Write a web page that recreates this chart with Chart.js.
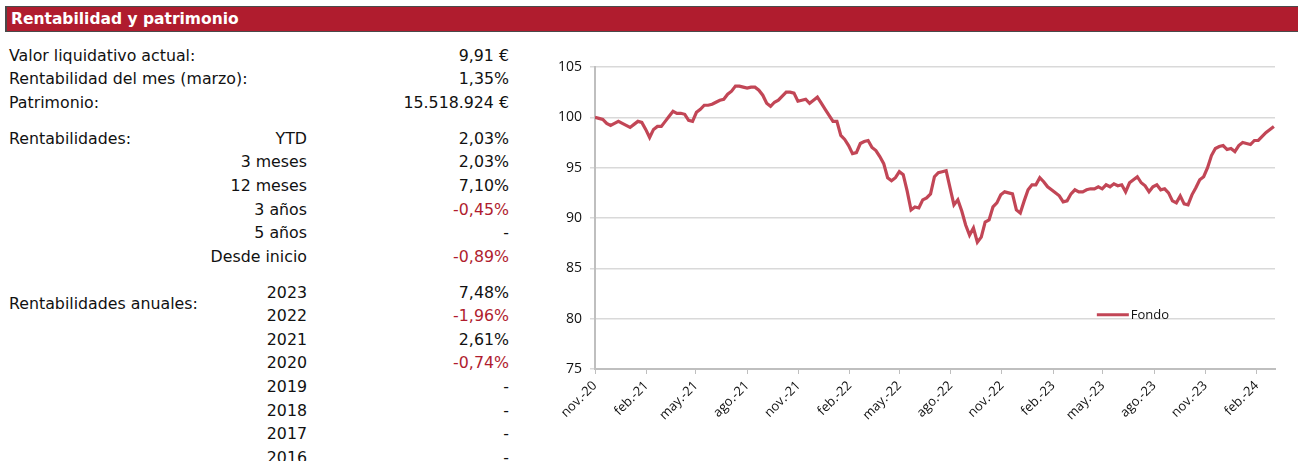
<!DOCTYPE html>
<html>
<head>
<meta charset="utf-8">
<script src="https://cdn.jsdelivr.net/npm/chart.js@4/dist/chart.umd.min.js"></script>
<style>
  body { margin: 0; background: #fff; width: 1298px; height: 461px; overflow: hidden; position: relative; font-family: "DejaVu Sans", Verdana, sans-serif; }
  #cabecera { position: absolute; left: 5px; top: 6px; width: 1293px; height: 24px; background: #b01c2e; border: 1px solid #4a4a4a; border-right: none; border-width: 1px 0 1px 2px; box-sizing: content-box; color: #fff; font-weight: bold; font-size: 15.5px; line-height: 24px; padding-left: 4px; }
  .fila { position: absolute; left: 0; height: 22px; line-height: 22px; font-size: 15.8px; color: #111; white-space: nowrap; }
  .fila span { position: absolute; }
  .txt { left: 9px; }
  .mid { right: -307px; text-align: right; }
  .val { right: -509px; text-align: right; }
  .neg { color: #b01c2e; }
  #grafico { position: absolute; left: 530px; top: 40px; width: 760px; height: 421px; }
</style>
</head>
<body>
<div id="cabecera">Rentabilidad y patrimonio</div>
<div id="tabla"></div>
<div id="grafico"><canvas id="fondo-chart" width="760" height="421"></canvas></div>
<script>
// datos de la tabla izquierda
var filasTexto = ["Valor liquidativo actual:", "Rentabilidad del mes (marzo):", "Patrimonio:", "Rentabilidades:", "", "", "", "", "", "", "", "", "", "", "", "", ""];
var filasPeriodo = ["", "", "", "YTD", "3 meses", "12 meses", "3 años", "5 años", "Desde inicio", "2023", "2022", "2021", "2020", "2019", "2018", "2017", "2016"];
var filasValor = ["9,91 €", "1,35%", "15.518.924 €", "2,03%", "2,03%", "7,10%", "-0,45%", "-", "-0,89%", "7,48%", "-1,96%", "2,61%", "-0,74%", "-", "-", "-", "-"];
var filasY = [45, 68, 92, 128, 151, 175, 199, 222, 246, 282, 305, 329, 352, 376, 400, 423, 447];

// serie semanal del fondo (base 100), desde nov.-20
var inicio = Date.UTC(2020, 10, 1);
var pasoDias = 7;
var fondo = [
  100.0, 99.9, 99.8, 99.4, 99.2, 99.4, 99.6, 99.4, 99.2, 99.0,
  99.3, 99.6, 99.5, 98.8, 98.0, 98.8, 99.1, 99.1, 99.6, 100.1,
  100.6, 100.4, 100.4, 100.3, 99.7, 99.6, 100.5, 100.8, 101.2, 101.2,
  101.3, 101.5, 101.7, 101.8, 102.3, 102.6, 103.1, 103.1, 103.0, 102.9,
  103.0, 103.0, 102.7, 102.2, 101.4, 101.1, 101.5, 101.7, 102.1, 102.5,
  102.5, 102.4, 101.6, 101.7, 101.8, 101.4, 101.7, 102.0, 101.4, 100.8,
  100.2, 99.6, 99.6, 98.2, 97.8, 97.2, 96.4, 96.5, 97.4, 97.6,
  97.7, 97.0, 96.7, 96.1, 95.4, 94.0, 93.7, 94.0, 94.6, 94.3,
  92.7, 90.8, 91.1, 91.0, 91.8, 92.0, 92.4, 94.1, 94.5, 94.6,
  94.7, 93.0, 91.3, 91.8, 90.7, 89.3, 88.3, 89.0, 87.6, 88.1,
  89.6, 89.8, 91.1, 91.5, 92.3, 92.6, 92.5, 92.4, 90.8, 90.5,
  91.7, 92.8, 93.3, 93.3, 94.0, 93.6, 93.1, 92.8, 92.5, 92.2,
  91.6, 91.7, 92.4, 92.8, 92.6, 92.6, 92.8, 92.9, 92.9, 93.1,
  92.9, 93.3, 93.1, 93.4, 93.2, 93.3, 92.6, 93.5, 93.8, 94.1,
  93.5, 93.2, 92.6, 93.1, 93.3, 92.8, 92.9, 92.5, 91.7, 91.5,
  92.2, 91.4, 91.3, 92.3, 93.0, 93.8, 94.1, 95.0, 96.2, 96.9,
  97.1, 97.2, 96.8, 96.9, 96.6, 97.2, 97.5, 97.4, 97.3, 97.7,
  97.7, 98.1, 98.5, 98.8, 99.1
];
var etiquetasX = ["nov.-20", "feb.-21", "may.-21", "ago.-21", "nov.-21", "feb.-22", "may.-22", "ago.-22", "nov.-22", "feb.-23", "may.-23", "ago.-23", "nov.-23", "feb.-24"];
var ticksY = [75, 80, 85, 90, 95, 100, 105];

// tabla
var tabla = document.getElementById("tabla");
for (var i = 0; i < filasValor.length; i++) {
  var f = document.createElement("div");
  f.className = "fila";
  f.style.top = filasY[i] + "px";
  var neg = filasValor[i].charAt(0) == "-" && filasValor[i].length > 1;
  f.innerHTML = '<span class="txt">' + filasTexto[i] + '</span>' +
    '<span class="mid">' + filasPeriodo[i] + '</span>' +
    '<span class="val' + (neg ? ' neg' : '') + '">' + filasValor[i] + '</span>';
  tabla.appendChild(f);
}
var anual = document.createElement("div");
anual.className = "fila";
anual.style.top = "293px";
anual.innerHTML = '<span class="txt">Rentabilidades anuales:</span>';
tabla.appendChild(anual);

// puntos y posiciones de ticks (dias desde inicio)
var puntos = [];
for (var i = 0; i < fondo.length; i++) {
  puntos.push({ x: i * pasoDias, y: fondo[i] });
}
var diasTicks = [];
for (var k = 0; k < etiquetasX.length; k++) {
  diasTicks.push(Math.round((Date.UTC(2020, 10 + 3 * k, 1) - inicio) / 86400000));
}

var colorLinea = "#c24656";

// leyenda dentro del area
var leyendaInterna = {
  id: "leyendaInterna",
  afterDraw: function(chart) {
    var ctx = chart.ctx, a = chart.chartArea;
    var x0 = a.left + (a.right - a.left) * 0.738;
    var y0 = a.top + (a.bottom - a.top) * 0.82;
    ctx.save();
    ctx.strokeStyle = colorLinea;
    ctx.lineWidth = 3;
    ctx.beginPath();
    ctx.moveTo(x0, y0);
    ctx.lineTo(x0 + 32, y0);
    ctx.stroke();
    ctx.fillStyle = "#111";
    ctx.font = "13px 'Open Sans', sans-serif";
    ctx.textBaseline = "middle";
    ctx.fillText(chart.data.datasets[0].label, x0 + 34, y0 + 1);
    ctx.restore();
  }
};

var ctx = document.getElementById("fondo-chart");
var myChart = new Chart(ctx, {
  type: "line",
  data: {
    datasets: [{
      label: "Fondo",
      data: puntos,
      borderColor: colorLinea,
      borderWidth: 3.2,
      pointRadius: 0,
      tension: 0,
      fill: false
    }]
  },
  options: {
    responsive: false,
    animation: false,
    layout: { padding: { left: 0, right: 15, top: 27, bottom: 0 } },
    plugins: { legend: { display: false }, tooltip: { enabled: false } },
    scales: {
      x: {
        type: "linear",
        min: 0,
        max: 1220,
        afterBuildTicks: function(scale) {
          scale.ticks = diasTicks.map(function(d) { return { value: d }; });
        },
        afterFit: function(scale) { scale.height = 92; },
        ticks: {
          autoSkip: false,
          maxRotation: 45,
          minRotation: 45,
          padding: 4,
          color: "#111",
          font: { family: "'Open Sans', sans-serif", size: 13 },
          callback: function(v, idx) { return etiquetasX[idx]; }
        },
        grid: { drawOnChartArea: false, drawTicks: true, tickLength: 5, color: "#bfbfbf" },
        border: { color: "#bfbfbf", width: 2 }
      },
      y: {
        min: 75,
        max: 105,
        afterBuildTicks: function(scale) {
          scale.ticks = ticksY.map(function(v) { return { value: v }; });
        },
        afterFit: function(scale) { scale.width = 65; },
        ticks: {
          padding: 8,
          color: "#111",
          font: { family: "'Open Sans', sans-serif", size: 14 }
        },
        grid: { color: "#d9d9d9", lineWidth: 1.5, tickLength: 5 },
        border: { color: "#bfbfbf", width: 2 }
      }
    }
  },
  plugins: [leyendaInterna]
});
</script>
</body>
</html>
